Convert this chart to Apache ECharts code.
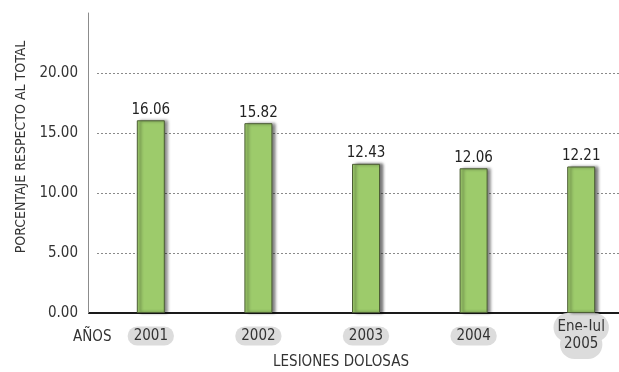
<!DOCTYPE html>
<html>
<head>
<meta charset="utf-8">
<script src="https://cdn.jsdelivr.net/npm/echarts@6/dist/echarts.min.js"></script>
<style>
  html, body { margin: 0; padding: 0; background: #fff; }
  #chart { width: 619px; height: 372px; }
</style>
</head>
<body>
<div id="chart"></div>
<script>
// Share of intentional-injury cases (lesiones dolosas) by year
const categories = ['2001', '2002', '2003', '2004', 'Ene-Jul\n2005'];
const values = [16.06, 15.82, 12.43, 12.06, 12.21];
const yTicks = [0, 5, 10, 15, 20];

const FONT = '"DejaVu Sans Condensed", "Liberation Sans Narrow", "Arial Narrow", sans-serif';

const chart = echarts.init(document.getElementById('chart'));
chart.setOption({
  animation: false,
  backgroundColor: '#ffffff',
  textStyle: { fontFamily: FONT },
  grid: { left: 97, right: -16, top: 13, bottom: 59, outerBoundsMode: 'none', containLabel: false },
  xAxis: {
    type: 'category',
    data: categories,
    name: 'LESIONES DOLOSAS',
    nameLocation: 'middle',
    nameGap: 42,
    nameMoveOverlap: false,
    nameTextStyle: { fontFamily: FONT, fontSize: 15, color: '#333', padding: [0, 50, 0, 0] },
    axisLine: { lineStyle: { color: '#1a1a1a', width: 2 } },
    axisTick: { show: false },
    axisLabel: {
      margin: 23,
      verticalAlign: 'middle',
      formatter: function (v) {
        return v.indexOf('\n') >= 0 ? '{big|' + v + '}' : '{pill|' + v + '}';
      },
      rich: {
        pill: {
          fontFamily: FONT, fontSize: 15, color: '#333',
          backgroundColor: '#dcdcdc', borderRadius: 10,
          padding: [2, 6, 2, 6], lineHeight: 16
        },
        big: {
          fontFamily: FONT, fontSize: 15, color: '#333',
          backgroundColor: '#dcdcdc', borderRadius: 22,
          padding: [7, 4, 7, 4], lineHeight: 17
        }
      }
    }
  },
  yAxis: {
    type: 'value',
    min: yTicks[0],
    max: 25,
    interval: 5,
    offset: 9,
    name: 'PORCENTAJE RESPECTO AL TOTAL',
    nameLocation: 'middle',
    nameGap: 60,
    nameMoveOverlap: false,
    nameTextStyle: { fontFamily: FONT, fontSize: 14, color: '#333', padding: [0, 0, 0, 32] },
    axisLine: { show: true, lineStyle: { color: '#8c8c8c', width: 1 } },
    axisTick: { show: false },
    axisLabel: {
      margin: 10,
      showMaxLabel: false,
      fontFamily: FONT, fontSize: 15, color: '#333',
      formatter: function (v) { return yTicks.indexOf(v) >= 0 ? v.toFixed(2) : ''; }
    },
    splitLine: {
      show: true,
      showMaxLine: false,
      lineStyle: { color: '#8a8a8a', width: 1, type: [2, 2] }
    }
  },
  graphic: [
    {
      // baseline continues left to meet the offset value axis
      type: 'line',
      shape: { x1: 88, y1: 313, x2: 98, y2: 313 },
      style: { stroke: '#1a1a1a', lineWidth: 2 }
    },
    {
      type: 'text',
      left: 73,
      top: 330,
      style: { text: 'AÑOS', fontFamily: FONT, fontSize: 15, fill: '#333' }
    }
  ],
  series: [{
    type: 'bar',
    data: values,
    barWidth: 28,
    itemStyle: {
      color: '#9dcb6b',
      borderColor: '#4d5e36',
      borderWidth: 1,
      shadowColor: 'rgba(0,0,0,0.55)',
      shadowBlur: 3,
      shadowOffsetX: 3,
      shadowOffsetY: 0
    },
    label: {
      show: true,
      position: 'top',
      distance: 3,
      fontFamily: FONT,
      fontSize: 15,
      color: '#222',
      formatter: function (p) { return p.value.toFixed(2); }
    }
  }]
});
</script>
</body>
</html>
